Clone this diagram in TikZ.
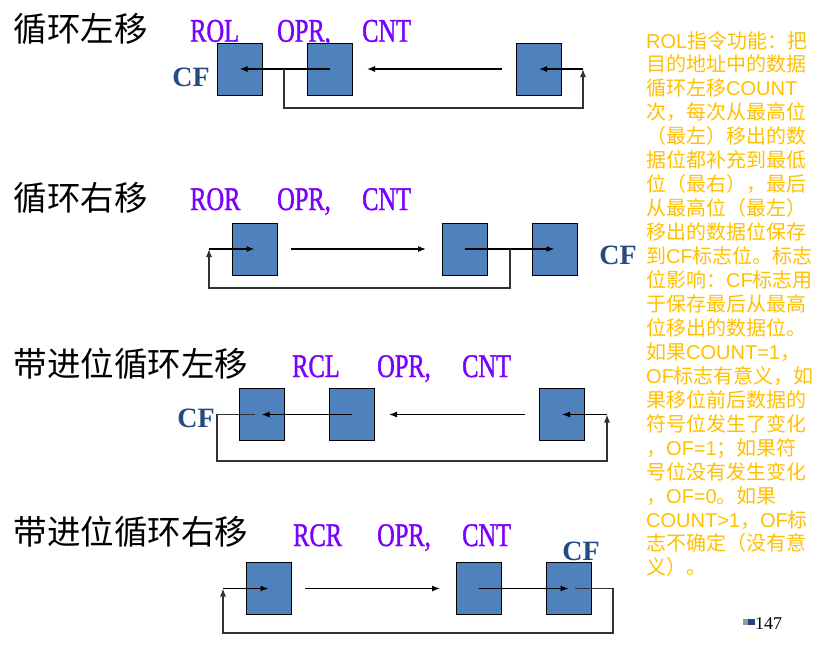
\documentclass[tikz,border=0pt]{standalone}
\usepackage{fontspec}
\setmainfont{Liberation Sans}
\newfontfamily\cjk{Noto Sans CJK SC}
\newfontfamily\narrowserif[FakeStretch=0.74,FakeBold=1.2]{Liberation Serif}
\newfontfamily\tnr{Liberation Serif}
\usetikzlibrary{arrows.meta}
\definecolor{boxblue}{RGB}{79,129,189}
\definecolor{insnpurple}{RGB}{122,0,255}
\definecolor{cfblue}{RGB}{36,76,128}
\definecolor{notegold}{RGB}{255,192,0}
\definecolor{loopgray}{RGB}{50,50,50}
\definecolor{pggray}{RGB}{150,150,150}
\definecolor{pgblue}{RGB}{31,73,125}
\newcommand\zh[1]{{\cjk #1}}
\tikzset{
  reg/.style={draw=black, fill=boxblue, line width=1pt, minimum width=45pt, minimum height=52pt, inner sep=0pt},
  arr/.style={draw=black, line width=1.2pt, -{Latex[length=8pt,width=6pt]}},
  loopline/.style={draw=loopgray, line width=1.1pt},
  looparr/.style={draw=loopgray, line width=1.1pt, -{Latex[length=8pt,width=6pt]}},
  heading/.style={anchor=west, inner sep=0pt, font=\cjk\fontsize{33.5}{36}\selectfont},
  insn/.style={anchor=base west, inner sep=0pt, text=insnpurple, font=\narrowserif\fontsize{33}{36}\selectfont},
  cflabel/.style={inner sep=0pt, text=cfblue, font=\tnr\bfseries\fontsize{28}{30}\selectfont},
  note/.style={anchor=base west, inner sep=0pt, text=notegold, font=\fontsize{20}{24}\selectfont}
}
\begin{document}
\begin{tikzpicture}[x=1pt, y=-1pt]
\useasboundingbox[fill=white] (0,0) rectangle (820,651);

% ---------- Row 1: ROL ----------
\node[heading] (h1) at (13.5,29) {循环左移};
\node[insn] (i1a) at (190,41.7) {ROL};
\node[insn] (i1b) at (277,41.7) {OPR,};
\node[insn] (i1c) at (362,41.7) {CNT};
\node[reg] (a1) at (239.5,69) {};
\node[reg] (a2) at (329.5,69) {};
\node[reg] (a3) at (539,69) {};
\node[cflabel] (cf1) at (191,77) {CF};
\coordinate (a1s) at (502,69);
\coordinate (a1e) at (367,69);
\coordinate (a1l) at (284,69);
\coordinate (a1r) at (583,69);
\draw[arr] (a2.center) -- (a1.center);
\draw[arr] (a1s) -- (a1e);
\draw[looparr] (a1l) -- (284,108) -- (583,108) -- (a1r);
\draw[arr] (a1r) -- (a3.center);

% ---------- Row 2: ROR ----------
\node[heading] (h2) at (13.5,197.5) {循环右移};
\node[insn] (i2a) at (190,210) {ROR};
\node[insn] (i2b) at (277,210) {OPR,};
\node[insn] (i2c) at (362,210) {CNT};
\node[reg] (b1) at (254.5,249) {};
\node[reg] (b2) at (464.5,249) {};
\node[reg] (b3) at (554.5,249) {};
\node[cflabel] (cf2) at (618,255) {CF};
\coordinate (b2s) at (291,249);
\coordinate (b2e) at (426,249);
\coordinate (b2l) at (510,249);
\coordinate (b2r) at (209,249);
\draw[arr] (b2s) -- (b2e);
\draw[arr] (b2.center) -- (b3.center);
\draw[looparr] (b2l) -- (510,288) -- (209,288) -- (b2r);
\draw[arr] (b2r) -- (b1.center);

% ---------- Row 3: RCL ----------
\node[heading] (h3) at (13.5,363.5) {带进位循环左移};
\node[insn] (i3a) at (292,377) {RCL};
\node[insn] (i3b) at (377,377) {OPR,};
\node[insn] (i3c) at (462,377) {CNT};
\node[reg] (c1) at (261.5,414.5) {};
\node[reg] (c2) at (351.5,414.5) {};
\node[reg] (c3) at (562,414.5) {};
\node[cflabel] (cf3) at (196,418) {CF};
\coordinate (c3s) at (525,414.5);
\coordinate (c3e) at (389,414.5);
\coordinate (c3g) at (255,414.5);
\coordinate (c3r) at (607,414.5);
\draw[arr] (c2.center) -- (c1.center);
\draw[arr] (c3s) -- (c3e);
\draw[looparr] (c3g) -- (217,414.5) -- (217,461) -- (607,461) -- (c3r);
\draw[arr] (c3r) -- (c3.center);

% ---------- Row 4: RCR ----------
\node[heading] (h4) at (13.5,532) {带进位循环右移};
\node[insn] (i4a) at (293,546) {RCR};
\node[insn] (i4b) at (377,546) {OPR,};
\node[insn] (i4c) at (462,546) {CNT};
\node[reg] (d1) at (268.5,588.5) {};
\node[reg] (d2) at (478.5,588.5) {};
\node[reg] (d3) at (568.5,588.5) {};
\node[cflabel] (cf4) at (581,551) {CF};
\coordinate (d4s) at (305,588.5);
\coordinate (d4e) at (440,588.5);
\coordinate (d4g) at (575,588.5);
\coordinate (d4r) at (223,588.5);
\draw[arr] (d4s) -- (d4e);
\draw[arr] (d2.center) -- (d3.center);
\draw[looparr] (d4g) -- (613,588.5) -- (613,633) -- (223,633) -- (d4r);
\draw[arr] (d4r) -- (d1.center);

% ---------- Note text ----------
\foreach \t [count=\i from 0] in {
  ROL\zh{指令功能：把},
  \zh{目的地址中的数据},
  \zh{循环左移}COUNT,
  \zh{次，每次从最高位},
  \zh{（最左）移出的数},
  \zh{据位都补充到最低},
  \zh{位（最右），最后},
  \zh{从最高位（最左）},
  \zh{移出的数据位保存},
  \zh{到}CF\zh{标志位。标志},
  \zh{位影响：}CF\zh{标志用},
  \zh{于保存最后从最高},
  \zh{位移出的数据位。},
  \zh{如果}COUNT=1\zh{，},
  OF\zh{标志有意义，如},
  \zh{果移位前后数据的},
  \zh{符号位发生了变化},
  \zh{，}OF=1\zh{；如果符},
  \zh{号位没有发生变化},
  \zh{，}OF=0\zh{。如果},
  COUNT>1\zh{，}OF\zh{标},
  \zh{志不确定（没有意},
  \zh{义）。}}
{
  \node[note] (n\i) at (646,{48+23.95*\i}) {\t};
}

% ---------- page number ----------
\fill[pggray] (742.5,618.5) rectangle (748,625);
\fill[pgblue] (748,618.5) rectangle (755,625);
\node[anchor=west, inner sep=0pt, font=\tnr\fontsize{18}{20}\selectfont] (pg) at (755,624) {147};
\end{tikzpicture}
\end{document}
